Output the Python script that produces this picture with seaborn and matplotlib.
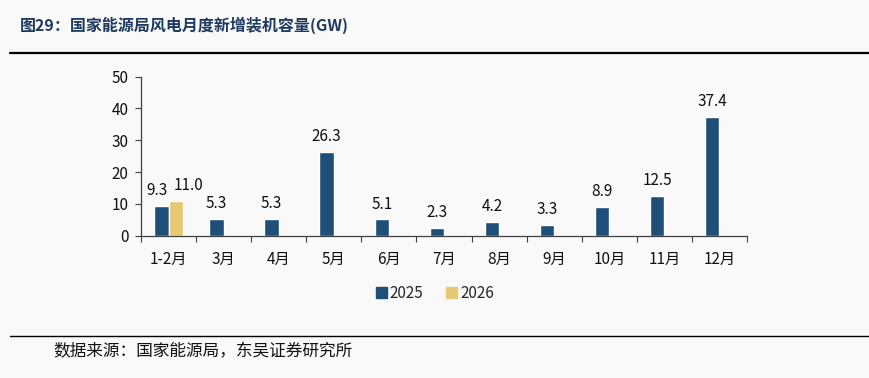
import numpy as np
import pandas as pd
import matplotlib
matplotlib.use("Agg")
import matplotlib.pyplot as plt
import seaborn as sns

# ---- data ----
categories = ["1-2月", "3月", "4月", "5月", "6月", "7月", "8月", "9月", "10月", "11月", "12月"]
values_2025 = [9.3, 5.3, 5.3, 26.3, 5.1, 2.3, 4.2, 3.3, 8.9, 12.5, 37.4]
values_2026 = [11.0, None, None, None, None, None, None, None, None, None, None]
series_names = ["2025", "2026"]
title_text = "图29：国家能源局风电月度新增装机容量(GW)"
source_text = "数据来源：国家能源局，东吴证券研究所"

df = pd.DataFrame({
    "月份": categories * 2,
    "年份": [series_names[0]] * len(categories) + [series_names[1]] * len(categories),
    "值": [np.nan if v is None else v for v in values_2025 + values_2026],
})

sns.set_theme(style="white")
plt.rcParams['font.family'] = ['Noto Sans CJK SC', 'DejaVu Sans']

bg = "#f9f9f9"
colors = {"2025": "#1f4e79", "2026": "#e8c872"}

fig = plt.figure(figsize=(8.7, 3.78), dpi=100, facecolor=bg)
ax = fig.add_axes([141/870, 1 - 235.7/378, (747 - 141)/870, (235.7 - 76.7)/378])
ax.set_facecolor(bg)

sns.barplot(data=df, x="月份", y="值", hue="年份", hue_order=series_names,
            order=categories, palette=colors, width=0.52, dodge=True, gap=0,
            ax=ax, legend=False, saturation=1)

ax.set_ylim(0, 50)
ax.set_yticks([0, 10, 20, 30, 40, 50])
ax.set_xlim(-0.5, len(categories) - 0.5)
ax.set_xlabel("")
ax.set_ylabel("")

# ticks at category boundaries, labels at centers
ax.set_xticks(np.arange(-0.5, len(categories), 1.0))
ax.set_xticklabels([])
ax.set_xticks(np.arange(len(categories)), minor=True)
ax.set_xticklabels(categories, minor=True, fontsize=11, color="#111111")
ax.tick_params(axis="x", which="major", length=4, width=0.8, direction="out", color="#404040", bottom=True)
ax.tick_params(axis="x", which="minor", length=0, pad=11)
ax.tick_params(axis="y", length=4, width=0.8, direction="out", color="#404040", left=True,
               labelsize=11, labelcolor="#111111", pad=5)

for s in ["top", "right"]:
    ax.spines[s].set_visible(False)
for s in ["left", "bottom"]:
    ax.spines[s].set_color("#404040")
    ax.spines[s].set_linewidth(0.9)

# data labels
for ci, cont in enumerate(ax.containers):
    for bi, patch in enumerate(cont.patches):
        h = patch.get_height()
        if np.isnan(h) or h == 0:
            continue
        x = patch.get_x() + patch.get_width() / 2
        dx = 0
        if bi == 0:
            dx = -3 if ci == 0 else 9
        ax.annotate(f"{h:.1f}", (x, h), xytext=(dx, 5), textcoords="offset points",
                    ha="center", va="bottom", fontsize=11, color="#111111")

# legend
handles = [plt.Rectangle((0, 0), 1, 1, color=colors[n]) for n in series_names]
fig.legend(handles, series_names, loc="center", bbox_to_anchor=(0.5, 1 - 293/378),
           ncol=2, frameon=False, fontsize=11, handlelength=0.7, handleheight=0.7,
           handletextpad=0.2, columnspacing=1.5)

# title, rules, source
fig.text(20/870, 1 - 25/378, title_text, fontsize=11.5, fontweight="bold", color="#1f3a5f",
         va="center", ha="left")
fig.add_artist(plt.Line2D([10/870, 1.0], [1 - 53/378, 1 - 53/378], color="black", linewidth=1.6))
fig.add_artist(plt.Line2D([10/870, 1.0], [1 - 335.7/378, 1 - 335.7/378], color="black", linewidth=1.0))
fig.text(53/870, 1 - 352/378, source_text, fontsize=12, color="#111111", va="center", ha="left")

fig.savefig("out.png", dpi=100, facecolor=bg)
